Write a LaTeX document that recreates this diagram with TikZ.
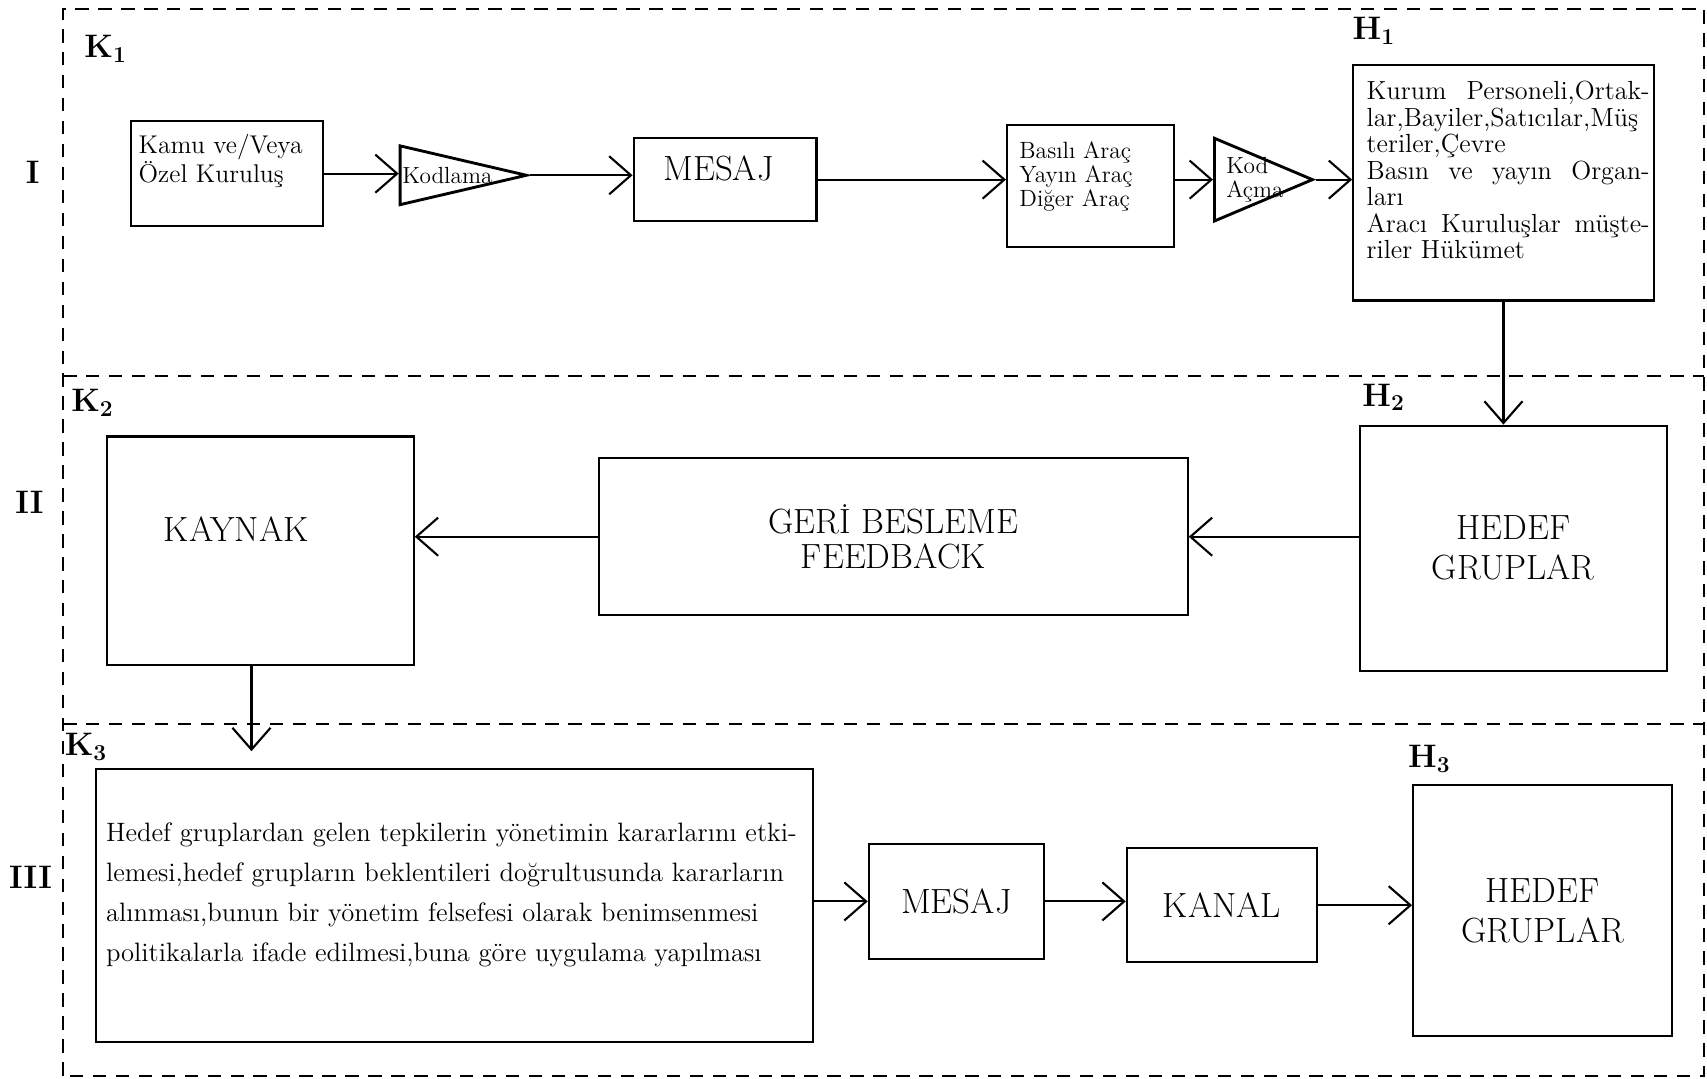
\documentclass[tikz,border=0pt]{standalone}
\usepackage{tikz}
\usetikzlibrary{arrows.meta,shapes.geometric}

\begin{document}
\begin{tikzpicture}[
    box/.style={draw, line width=1.1pt, inner sep=0pt},
    tri/.style={draw, isosceles triangle, isosceles triangle stretches, line width=1.5pt, inner sep=0pt},
    flow/.style={-{Straight Barb[length=4mm,width=7mm]}, line width=1.1pt},
    zone/.style={line width=1.1pt, dash pattern=on 7pt off 5pt},
    secname/.style={font=\fontsize{17}{20}\selectfont\bfseries},
    big/.style={font=\fontsize{18.3}{21}\selectfont, align=center},
    small/.style={font=\fontsize{12.2}{12.7}\selectfont, align=left}
  ]
    \useasboundingbox (0,0) rectangle (31.36,19.82);

    % dashed zones
    \draw[zone] (1.16,0.06) rectangle (31.30,19.66);
    \draw[zone] (1.16,12.92) -- (31.30,12.92);
    \draw[zone] (1.16,6.52) -- (31.30,6.52);

    \node[secname] (r1) at (0.60,16.66) {I};
    \node[secname] (r2) at (0.54,10.60) {II};
    \node[secname] (r3) at (0.56,3.70) {III};
    \node[secname] (k1) at (1.94,18.92) {K\textsubscript{1}};
    \node[secname] (h1n) at (25.24,19.26) {H\textsubscript{1}};
    \node[secname] (k2) at (1.70,12.42) {K\textsubscript{2}};
    \node[secname] (h2n) at (25.42,12.52) {H\textsubscript{2}};
    \node[secname] (k3) at (1.58,6.10) {K\textsubscript{3}};
    \node[secname] (h3n) at (26.26,5.88) {H\textsubscript{3}};

    % row I
    \node[box, minimum width=3.54cm, minimum height=1.94cm] (kamu) at (4.17,16.63) {};
    \node[anchor=north west, align=left, font=\fontsize{13.4}{13.8}\selectfont, inner sep=0pt]
      (kamut) at ([shift={(0.16,-0.26)}]kamu.north west) {Kamu ve/Veya\\Özel Kuruluş};
    \node[tri, minimum height=2.32cm, minimum width=1.08cm, anchor=apex] (kodlama) at (9.74,16.60) {};
    \node[small, anchor=west, inner sep=0pt] (kodlamat) at ([xshift=0.06cm]kodlama.west) {Kodlama};
    \node[box, minimum width=3.36cm, minimum height=1.52cm] (mesaj1) at (13.32,16.52) {};
    \node[big] (mesaj1t) at ([shift={(-0.12,0.2)}]mesaj1.center) {MESAJ};
    \node[box, minimum width=3.06cm, minimum height=2.24cm] (basili) at (20.03,16.40) {};
    \node[small, anchor=north west, inner sep=0pt, font=\fontsize{12.3}{12.5}\selectfont]
      (basilit) at ([shift={(0.24,-0.32)}]basili.north west) {Basılı Araç\\Yayın Araç\\Diğer Araç};
    \node[tri, minimum height=1.8cm, minimum width=1.52cm, anchor=apex] (kodacma) at (24.18,16.52) {};
    \node[small, anchor=west, inner sep=0pt] (kodacmat) at ([xshift=0.24cm]kodacma.west) {Kod\\Açma};
    \node[box, minimum width=5.52cm, minimum height=4.32cm] (h1) at (27.62,16.46) {};
    \node[anchor=north west, text width=5.2cm, align=justify, inner sep=0pt,
      font=\fontsize{13.7}{13.9}\selectfont]
      (h1t) at ([shift={(0.26,-0.3)}]h1.north west)
      {Kurum Personeli,Ortak-\linebreak lar,Bayiler,Satıcılar,Müş\linebreak teriler,Çevre\\
       Basın ve yayın Organ-\linebreak ları\\
       Aracı Kuruluşlar müşte-\linebreak riler Hükümet};

    \draw[flow] (kamu.east) -- (kamu.east -| kodlama.west);
    \draw[flow] (kodlama.east) -- (kodlama.east -| mesaj1.west);
    \draw[flow] (mesaj1.east) -- (mesaj1.east -| basili.west);
    \draw[flow] (basili.east |- kodacma.west) -- (kodacma.west);
    \draw[flow] (kodacma.east) -- (kodacma.east -| h1.west);

    % row II
    \node[box, minimum width=5.64cm, minimum height=4.2cm] (kaynak) at (4.78,9.70) {};
    \node[big] (kaynakt) at ([shift={(-0.44,0.4)}]kaynak.center) {KAYNAK};
    \node[box, big, font=\fontsize{18.3}{18.5}\selectfont, minimum width=10.82cm, minimum height=2.88cm]
      (geri) at (16.41,9.96) {GERİ BESLEME\\FEEDBACK};
    \node[box, big, minimum width=5.64cm, minimum height=4.5cm] (h2) at (27.80,9.75) {HEDEF\\GRUPLAR};

    \draw[flow] (h1.south) -- (h1.south |- h2.north);
    \draw[flow] (h2.west |- geri.east) -- (geri.east);
    \draw[flow] (geri.west) -- (geri.west -| kaynak.east);
    \coordinate (k3in) at (4.62,6.02);
    \draw[flow] (kaynak.south -| k3in) -- (k3in);

    % row III
    \node[box, minimum width=13.18cm, minimum height=5.02cm] (etki) at (8.35,3.19) {};
    \node[anchor=west, align=left, font=\fontsize{13.9}{20.8}\selectfont, inner sep=0pt]
      (etkit) at ([shift={(0.2,0.19)}]etki.west)
      {Hedef gruplardan gelen tepkilerin yönetimin kararlarını etki-\\
       lemesi,hedef grupların beklentileri doğrultusunda kararların\\
       alınması,bunun bir yönetim felsefesi olarak benimsenmesi\\
       politikalarla ifade edilmesi,buna göre uygulama yapılması};
    \node[box, big, minimum width=3.22cm, minimum height=2.12cm] (mesaj2) at (17.57,3.26) {MESAJ};
    \node[box, big, minimum width=3.5cm, minimum height=2.1cm] (kanal) at (22.45,3.19) {KANAL};
    \node[box, big, minimum width=4.76cm, minimum height=4.62cm] (h3) at (28.34,3.09) {HEDEF\\GRUPLAR};

    \draw[flow] (etki.east |- mesaj2.west) -- (mesaj2.west);
    \draw[flow] (mesaj2.east) -- (mesaj2.east -| kanal.west);
    \draw[flow] (kanal.east) -- (kanal.east -| h3.west);
  \end{tikzpicture}
\end{document}
